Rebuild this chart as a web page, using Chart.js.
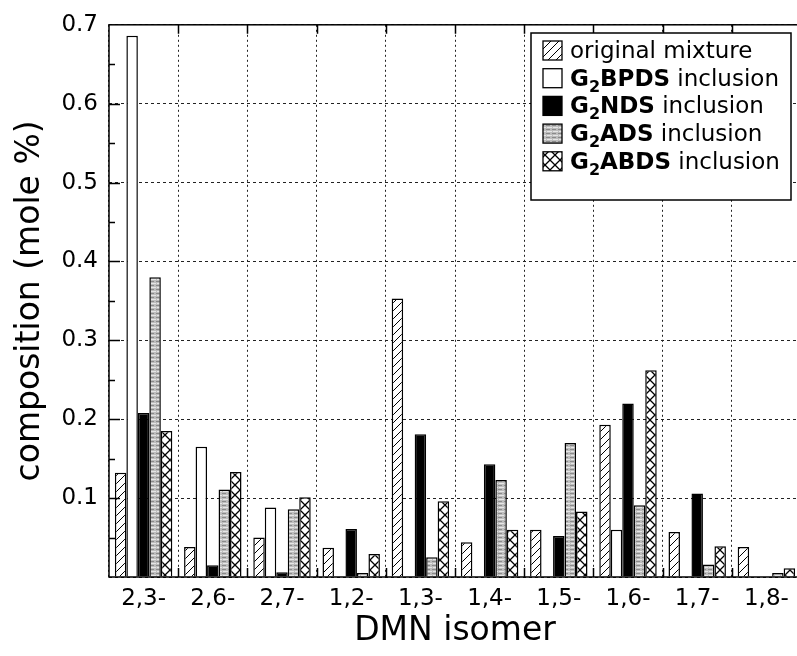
<!DOCTYPE html>
<html>
<head>
<meta charset="utf-8">
<script src="https://cdn.jsdelivr.net/npm/chart.js@4.4.1/dist/chart.umd.min.js"></script>
<style>
  html, body { margin: 0; padding: 0; background: #fff; overflow: hidden; }
</style>
</head>
<body>
<canvas id="chartDmn" width="805" height="656" style="width:805px;height:656px;display:block"></canvas>
<script>
const isomers = ['2,3-', '2,6-', '2,7-', '1,2-', '1,3-', '1,4-', '1,5-', '1,6-', '1,7-', '1,8-'];
const seriesNames = ['original mixture', 'G₂BPDS inclusion', 'G₂NDS inclusion', 'G₂ADS inclusion', 'G₂ABDS inclusion'];

const originalMix = [0.132, 0.038, 0.050, 0.037, 0.353, 0.044, 0.060, 0.193, 0.057, 0.038];
const bpdsIncl    = [0.686, 0.165, 0.088, 0.000, 0.000, 0.000, 0.000, 0.060, 0.000, 0.000];
const ndsIncl     = [0.208, 0.015, 0.006, 0.061, 0.181, 0.143, 0.052, 0.220, 0.106, 0.000];
const adsIncl     = [0.380, 0.111, 0.086, 0.005, 0.025, 0.123, 0.170, 0.091, 0.016, 0.005];
const abdsIncl    = [0.185, 0.133, 0.101, 0.029, 0.096, 0.060, 0.083, 0.262, 0.039, 0.011];

const yTicks = [0.1, 0.2, 0.3, 0.4, 0.5, 0.6, 0.7];

Chart.defaults.font.family = '"DejaVu Sans", sans-serif';
Chart.defaults.color = '#000';

// fill patterns like the printed figure
function makePattern(kind) {
    const c = document.createElement('canvas');
    const g = c.getContext('2d');
    if (kind === 'hatch') {
        c.width = 8; c.height = 8;
        g.fillStyle = '#fff'; g.fillRect(0, 0, 8, 8);
        g.strokeStyle = '#000'; g.lineWidth = 1;
        g.beginPath();
        g.moveTo(-1, 9); g.lineTo(9, -1);
        g.moveTo(-1, 1); g.lineTo(1, -1);
        g.moveTo(7, 9); g.lineTo(9, 7);
        g.stroke();
    } else if (kind === 'cross') {
        c.width = 10; c.height = 10;
        g.fillStyle = '#fff'; g.fillRect(0, 0, 10, 10);
        g.strokeStyle = '#000'; g.lineWidth = 1.3;
        g.beginPath();
        g.moveTo(-1, 11); g.lineTo(11, -1);
        g.moveTo(-1, -1); g.lineTo(11, 11);
        g.stroke();
    } else {
        c.width = 6; c.height = 4;
        g.fillStyle = '#bdbdbd'; g.fillRect(0, 0, 6, 4);
        g.fillStyle = '#8a8a8a'; g.fillRect(0, 1, 4, 1);
        g.fillStyle = '#e6e6e6'; g.fillRect(1, 3, 5, 1);
    }
    return c.getContext('2d').createPattern(c, 'repeat');
}

const fills = [makePattern('hatch'), '#ffffff', '#000000', makePattern('gray'), makePattern('cross')];
const values = [originalMix, bpdsIncl, ndsIncl, adsIncl, abdsIncl];

const frameAndLegend = {
    id: 'frameAndLegend',
    afterDraw(chart) {
        const ctx = chart.ctx;
        const a = chart.chartArea;
        const xs = chart.scales.x, ys = chart.scales.y;
        ctx.save();
        ctx.strokeStyle = '#000';
        ctx.lineWidth = 1.5;
        ctx.strokeRect(a.left, a.top, a.right - a.left, a.bottom - a.top);

        // inward ticks on the left axis
        ctx.beginPath();
        for (let v = 0.05; v < 0.7; v += 0.05) {
            const y = Math.round(ys.getPixelForValue(v)) + 0.5;
            const major = Math.abs(v * 10 - Math.round(v * 10)) < 0.01;
            ctx.moveTo(a.left, y);
            ctx.lineTo(a.left + (major ? 11 : 6), y);
        }
        // inward ticks top and bottom at category boundaries
        const step = xs.getPixelForValue(1) - xs.getPixelForValue(0);
        for (let i = 1; i < isomers.length; i++) {
            const x = Math.round(xs.getPixelForValue(i) - step / 2) + 0.5;
            ctx.moveTo(x, a.bottom); ctx.lineTo(x, a.bottom - 9);
            ctx.moveTo(x, a.top); ctx.lineTo(x, a.top + 9);
        }
        ctx.stroke();

        // legend box
        const bx = 531, by = 33, bw = 260, bh = 167;
        ctx.fillStyle = '#fff';
        ctx.fillRect(bx, by, bw, bh);
        ctx.lineWidth = 1.5;
        ctx.strokeRect(bx, by, bw, bh);

        ctx.textBaseline = 'alphabetic';
        seriesNames.forEach((name, i) => {
            const cy = 50 + i * 27.7;
            ctx.fillStyle = fills[i];
            ctx.fillRect(543, cy - 9, 19, 19);
            ctx.lineWidth = 1.3;
            ctx.strokeStyle = '#000';
            ctx.strokeRect(543, cy - 9, 19, 19);

            let x = 570;
            const base = cy + 8;
            ctx.fillStyle = '#000';
            if (name.startsWith('G₂')) {
                const host = name.split(' ')[0].slice(2);
                const rest = name.slice(name.indexOf(' '));
                ctx.font = 'bold 23px "DejaVu Sans"';
                ctx.fillText('G', x, base);
                x += ctx.measureText('G').width;
                ctx.font = 'bold 16px "DejaVu Sans"';
                ctx.fillText('2', x, base + 6);
                x += ctx.measureText('2').width;
                ctx.font = 'bold 23px "DejaVu Sans"';
                ctx.fillText(host, x, base);
                x += ctx.measureText(host).width;
                ctx.font = '23px "DejaVu Sans"';
                ctx.fillText(rest, x, base);
            } else {
                ctx.font = '23px "DejaVu Sans"';
                ctx.fillText(name, x, base);
            }
        });
        ctx.restore();
    }
};

new Chart(document.getElementById('chartDmn').getContext('2d'), {
    type: 'bar',
    data: {
        labels: isomers,
        datasets: seriesNames.map((name, i) => ({
            label: name,
            data: values[i],
            backgroundColor: fills[i],
            borderColor: '#000',
            borderWidth: 1.5,
            categoryPercentage: 0.83,
            barPercentage: 1.0
        }))
    },
    options: {
        responsive: false,
        animation: false,
        layout: { padding: { top: 24, right: 4, left: 0, bottom: 0 } },
        plugins: {
            legend: { display: false },
            tooltip: { enabled: false }
        },
        scales: {
            x: {
                grid: { offset: true, color: '#222', lineWidth: 1, drawTicks: false },
                border: { display: false, dash: [2, 3] },
                ticks: { font: { size: 23 }, padding: 8, color: '#000' },
                title: { display: true, text: 'DMN isomer', font: { size: 33 }, padding: { top: 0, bottom: 5 } },
                afterFit: s => { s.height = 79; }
            },
            y: {
                min: 0,
                max: 0.7,
                grid: { color: '#222', lineWidth: 1, drawTicks: false },
                border: { display: false, dash: [3, 3] },
                afterBuildTicks: s => { s.ticks = [0].concat(yTicks).map(v => ({ value: v })); },
                ticks: {
                    font: { size: 23 },
                    padding: 11,
                    color: '#000',
                    callback: v => v === 0 ? '' : v.toFixed(1)
                },
                title: { display: true, text: 'composition (mole %)', font: { size: 33 }, padding: { top: 11, bottom: 0 } },
                afterFit: s => { s.width = 109; }
            }
        }
    },
    plugins: [frameAndLegend]
});
</script>
</body>
</html>
